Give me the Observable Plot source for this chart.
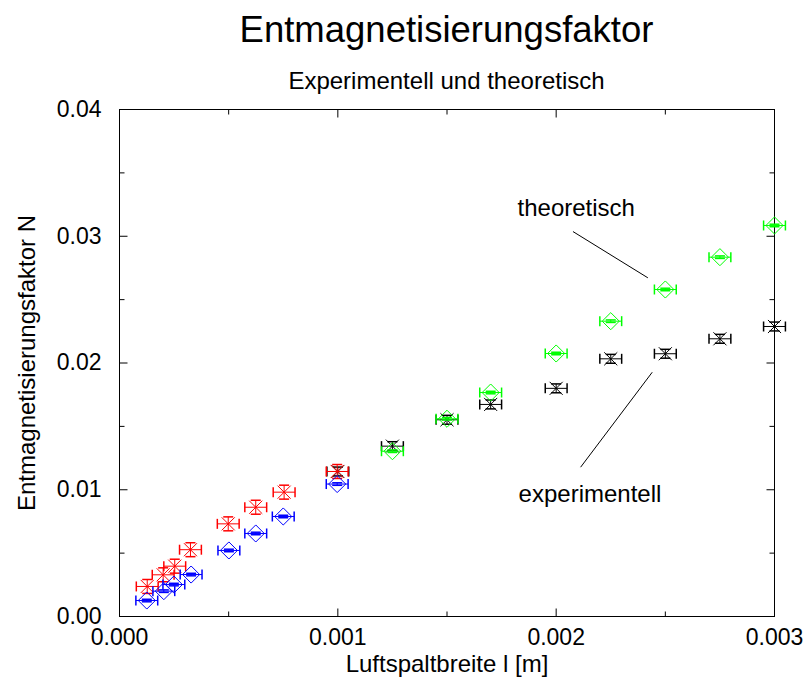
<!DOCTYPE html>
<html><head><meta charset="utf-8">
<script src="https://cdn.jsdelivr.net/npm/d3@7"></script>
<script src="https://cdn.jsdelivr.net/npm/@observablehq/plot@0.6"></script>
<style>
body{margin:0;background:#fff;font-family:"Liberation Sans",Arial,sans-serif;}
#wrap{position:relative;width:807px;height:685px;overflow:hidden;}
.t{position:absolute;left:119px;width:655px;text-align:center;color:#000;white-space:nowrap;z-index:1;}
</style></head><body>
<div id="wrap">
<div id="chart" style="position:absolute;left:0;top:88px"></div>
<div class="t" id="title" style="top:8px;font-size:36.5px;line-height:44px">Entmagnetisierungsfaktor</div>
<div class="t" id="sub" style="top:67px;font-size:24px;line-height:28px">Experimentell und theoretisch</div>
</div>
<script>
// ---- data ----
const redX   = [0.000127, 0.0002, 0.000253, 0.000325, 0.000498, 0.000624, 0.000754, 0.000997];
const redY   = [0.00237, 0.00329, 0.00397, 0.00527, 0.00731, 0.00862, 0.00981, 0.01144];
const blueX  = [0.000125, 0.000203, 0.000249, 0.000328, 0.000501, 0.000624, 0.00075, 0.000997];
const blueY  = [0.00126, 0.00200, 0.00252, 0.00331, 0.00521, 0.00655, 0.00789, 0.01045];
const blackX = [0.001, 0.00125, 0.0015, 0.0017, 0.002, 0.00225, 0.0025, 0.00275, 0.003];
const blackY = [0.01144, 0.01344, 0.01552, 0.01673, 0.01800, 0.02033, 0.02073, 0.02191, 0.02288];
const greenX = [0.00125, 0.0015, 0.0017, 0.002, 0.00225, 0.0025, 0.00275, 0.003];
const greenY = [0.01304, 0.01560, 0.01767, 0.02075, 0.02330, 0.02580, 0.02835, 0.03085];
const xErr = 0.00005;
const yErrRed = 0.00055, yErrBlack = 0.00035, yErrBlue = 0.0001, yErrGreen = 0.0001;

const xMajor = [0, 0.001, 0.002, 0.003];
const xMinor = [0.0005, 0.0015, 0.0025];
const yMajor = [0, 0.01, 0.02, 0.03, 0.04];
const yMinor = [0.005, 0.015, 0.025, 0.035];
const xTickLabels = ["0.000", "0.001", "0.002", "0.003"];
const yTickLabels = ["0.00", "0.01", "0.02", "0.03", "0.04"];

const annText = ["theoretisch", "experimentell"];
const annTextX = [0.001823, 0.001828];
const annTextY = [0.03219, 0.00963];
const annLineX1 = [0.002077, 0.00244];
const annLineY1 = [0.03037, 0.01927];
const annLineX2 = [0.00242, 0.002112];
const annLineY2 = [0.02672, 0.01178];

const xLabel = "Luftspaltbreite l [m]";
const yLabel = "Entmagnetisierungsfaktor N";

// ---- build ----
const mk = (xs, ys, ye, color, symbol) => xs.map((x, i) => ({x, y: ys[i], xe: xErr, ye, color, symbol}));
const groups = [
  mk(blackX, blackY, yErrBlack, "#000000", "times"),
  mk(redX, redY, yErrRed, "#ff0000", "times"),
  mk(blueX, blueY, yErrBlue, "#0000ff", "diamond2"),
  mk(greenX, greenY, yErrGreen, "#00ff00", "diamond2")
];
const seg = (x1, y1, x2, y2) => ({draw(c) { c.moveTo(x1, y1); c.lineTo(x2, y2); }});
const vcap = seg(0, -5, 0, 5), hcap = seg(-5, 0, 5, 0);

const marks = [Plot.frame({stroke: "black", strokeWidth: 1})];
const tickMarks = (vals, anchor, sym) => Plot.dot(vals, {
  [anchor === "bottom" || anchor === "top" ? "x" : "y"]: d => d,
  frameAnchor: anchor, symbol: sym, stroke: "black", fill: "none", strokeWidth: 1
});
marks.push(
  tickMarks(xMajor, "bottom", seg(0, 0, 0, -8)), tickMarks(xMinor, "bottom", seg(0, 0, 0, -5)),
  tickMarks(xMajor, "top", seg(0, 0, 0, 8)), tickMarks(xMinor, "top", seg(0, 0, 0, 5)),
  tickMarks(yMajor, "left", seg(0, 0, 8, 0)), tickMarks(yMinor, "left", seg(0, 0, 5, 0)),
  tickMarks(yMajor, "right", seg(0, 0, -8, 0)), tickMarks(yMinor, "right", seg(0, 0, -5, 0))
);
marks.push(
  Plot.text(xMajor, {x: d => d, frameAnchor: "bottom", text: (d, i) => xTickLabels[i], dy: 21, fontSize: 23, lineAnchor: "middle", textAnchor: "middle", fill: "black"}),
  Plot.text(yMajor, {y: d => d, frameAnchor: "left", text: (d, i) => yTickLabels[i], dx: -18, textAnchor: "end", fontSize: 23, lineAnchor: "middle", fill: "black"}),
  Plot.text([xLabel], {frameAnchor: "bottom", dy: 48, fontSize: 24, lineAnchor: "middle", textAnchor: "middle", fill: "black"}),
  Plot.text([yLabel], {frameAnchor: "left", dx: -92, rotate: -90, fontSize: 24, lineAnchor: "middle", textAnchor: "middle", fill: "black"})
);
for (const g of groups) {
  marks.push(
    Plot.link(g, {x1: d => d.x - d.xe, x2: d => d.x + d.xe, y1: "y", y2: "y", stroke: "color", strokeWidth: 1}),
    Plot.link(g, {x1: "x", x2: "x", y1: d => d.y - d.ye, y2: d => d.y + d.ye, stroke: "color", strokeWidth: 1}),
    Plot.dot(g, {x: d => d.x - d.xe, y: "y", symbol: vcap, stroke: "color", fill: "none"}),
    Plot.dot(g, {x: d => d.x + d.xe, y: "y", symbol: vcap, stroke: "color", fill: "none"}),
    Plot.dot(g, {x: "x", y: d => d.y - d.ye, symbol: hcap, stroke: "color", fill: "none"}),
    Plot.dot(g, {x: "x", y: d => d.y + d.ye, symbol: hcap, stroke: "color", fill: "none"}),
    Plot.dot(g, {x: "x", y: "y", symbol: g[0].symbol, r: g[0].symbol === "times" ? 6 : 7.7, stroke: "color", fill: "none", strokeWidth: 1})
  );
}
marks.push(
  Plot.link(annText, {x1: (d, i) => annLineX1[i], y1: (d, i) => annLineY1[i], x2: (d, i) => annLineX2[i], y2: (d, i) => annLineY2[i], stroke: "black", strokeWidth: 1}),
  Plot.text(annText, {x: (d, i) => annTextX[i], y: (d, i) => annTextY[i], text: d => d, textAnchor: "start", fontSize: 24, lineAnchor: "middle", fill: "black"})
);

const chart = Plot.plot({
  width: 807, height: 597,
  marginTop: 21, marginBottom: 69, marginLeft: 119, marginRight: 33,
  x: {domain: [0, 0.003], axis: null},
  y: {domain: [0, 0.04], axis: null},
  color: {type: "identity"},
  style: {fontFamily: "'Liberation Sans', Arial, sans-serif", background: "transparent", color: "black"},
  marks
});
document.getElementById("chart").appendChild(chart);
</script>
</body></html>
